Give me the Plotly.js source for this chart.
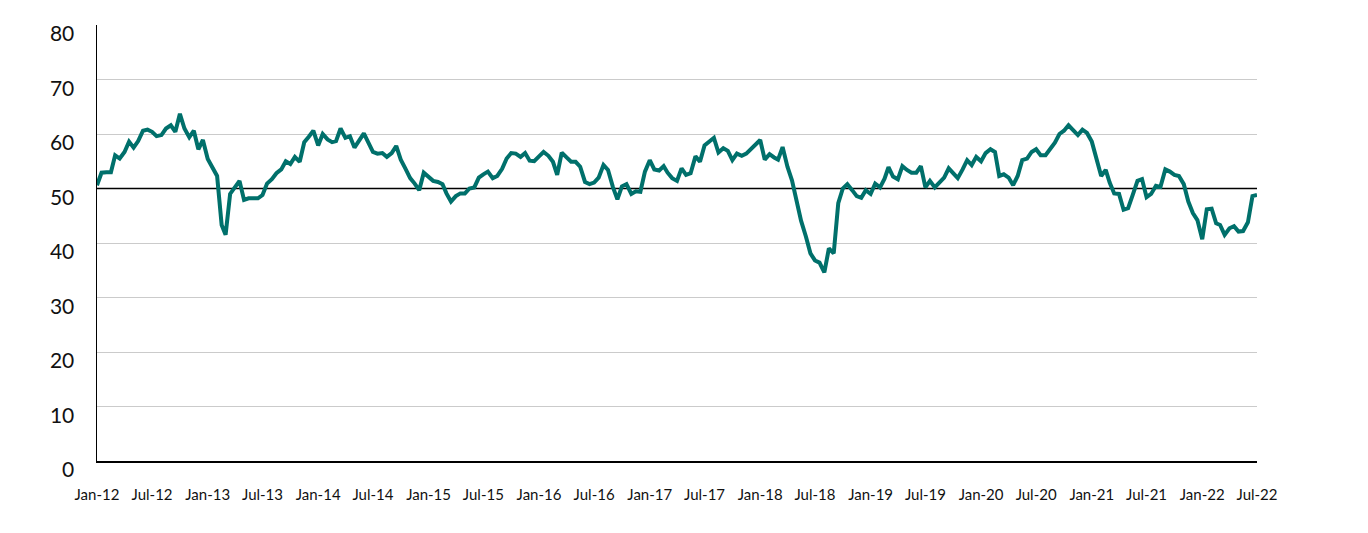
<!DOCTYPE html>
<html>
<head>
<meta charset="utf-8">
<script src="https://cdn.plot.ly/plotly-3.0.1.min.js"></script>
<style>
  html, body { margin: 0; padding: 0; background: #ffffff; }
  #chart { width: 1368px; height: 533px; }
</style>
</head>
<body>
<div id="chart"></div>
<script>
// Semi-monthly readings (1st and 16th of each month), one array per year
const y2012 = [50.6, 52.9, 53.0, 53.0, 56.1, 55.5, 56.7, 58.6, 57.5, 58.7, 60.6, 60.8,
               60.4, 59.6, 59.8, 61.0, 61.6, 60.4, 63.7, 61.0, 59.4, 60.6, 57.2, 58.9];
const y2013 = [55.4, 53.9, 52.3, 43.3, 41.5, 49.0, 50.3, 51.4, 47.9, 48.2, 48.2, 48.2,
               48.8, 50.9, 51.7, 52.8, 53.5, 55.0, 54.5, 55.8, 54.9, 58.5, 59.5, 60.6];
const y2014 = [57.9, 60.0, 59.0, 58.5, 58.7, 61.0, 59.3, 59.6, 57.5, 58.7, 60.1, 58.4,
               56.7, 56.4, 56.5, 55.8, 56.5, 57.8, 55.3, 53.7, 51.9, 50.9, 49.7, 52.9];
const y2015 = [52.0, 51.4, 51.2, 50.8, 49.1, 47.6, 48.6, 49.1, 49.1, 50.0, 50.2, 52.0,
               52.6, 53.1, 51.9, 52.3, 53.6, 55.5, 56.5, 56.4, 55.8, 56.5, 55.1, 55.0];
const y2016 = [55.9, 56.7, 56.0, 54.9, 52.5, 56.6, 55.7, 54.9, 54.9, 54.0, 51.2, 50.8,
               51.1, 52.0, 54.3, 53.4, 50.3, 48.0, 50.4, 50.8, 49.0, 49.5, 49.4, 53.1];
const y2017 = [55.2, 53.5, 53.3, 54.1, 52.9, 51.9, 51.4, 53.7, 52.5, 52.8, 55.9, 54.9,
               57.9, 58.6, 59.3, 56.6, 57.4, 56.9, 55.2, 56.4, 56.0, 56.4, 57.3, 58.1];
const y2018 = [58.9, 55.3, 56.3, 55.7, 55.3, 57.6, 54.0, 51.5, 47.4, 44.1, 41.2, 38.1,
               36.8, 36.4, 34.6, 39.0, 38.1, 47.3, 50.0, 50.8, 49.7, 48.6, 48.3, 49.7];
const y2019 = [49.0, 50.9, 50.2, 51.8, 53.9, 52.2, 51.7, 54.1, 53.4, 52.9, 52.9, 54.1,
               50.2, 51.4, 50.2, 51.1, 52.0, 53.7, 52.8, 51.9, 53.5, 55.2, 54.3, 55.8];
const y2020 = [55.0, 56.5, 57.2, 56.7, 52.3, 52.6, 52.0, 50.6, 52.3, 55.2, 55.5, 56.7,
               57.2, 56.1, 56.1, 57.3, 58.4, 60.0, 60.6, 61.6, 60.7, 59.8, 60.8, 60.2];
const y2021 = [58.6, 55.5, 52.3, 53.4, 51.1, 49.1, 49.0, 46.1, 46.4, 48.8, 51.4, 51.7,
               48.4, 49.0, 50.5, 50.3, 53.5, 53.1, 52.5, 52.3, 50.8, 47.6, 45.5, 44.2];
const y2022 = [40.7, 46.2, 46.3, 43.6, 43.3, 41.5, 42.7, 43.1, 42.1, 42.2, 43.8, 48.6, 48.8];

const years = [2012, 2013, 2014, 2015, 2016, 2017, 2018, 2019, 2020, 2021, 2022];
const yearValues = [y2012, y2013, y2014, y2015, y2016, y2017, y2018, y2019, y2020, y2021, y2022];

const REF_LEVEL = 50;
const Y_TICKS = [0, 10, 20, 30, 40, 50, 60, 70, 80];
const X_START = '2012-01-01';
const X_END = '2022-07-01';

// Build date/value lists from the yearly arrays
const dates = [];
const values = [];
years.forEach((yr, i) => {
  yearValues[i].forEach((v, j) => {
    const month = Math.floor(j / 2) + 1;
    const day = (j % 2 === 0) ? 1 : 16;
    dates.push(yr + '-' + String(month).padStart(2, '0') + '-' + String(day).padStart(2, '0'));
    values.push(v);
  });
});

const refLine = {
  x: [X_START, X_END],
  y: [REF_LEVEL, REF_LEVEL],
  type: 'scatter',
  mode: 'lines',
  line: { color: '#000000', width: 1.6 },
  hoverinfo: 'skip'
};

const trace = {
  x: dates,
  y: values,
  type: 'scatter',
  mode: 'lines',
  line: { color: '#00706B', width: 4 },
  hoverinfo: 'x+y'
};

const layout = {
  width: 1368,
  height: 533,
  margin: { l: 97, r: 111, t: 25, b: 72 },
  paper_bgcolor: '#ffffff',
  plot_bgcolor: '#ffffff',
  showlegend: false,
  font: { family: 'Lato, "Open Sans", sans-serif', color: '#1a1a1a' },
  xaxis: {
    type: 'date',
    range: [X_START, X_END],
    tick0: X_START,
    dtick: 'M6',
    tickformat: '%b-%y',
    showgrid: false,
    zeroline: false,
    showline: true,
    linecolor: '#000000',
    linewidth: 1.5,
    ticks: '',
    ticklabelstandoff: 19,
    tickfont: { size: 15, color: '#111111' }
  },
  yaxis: {
    range: [0, 80],
    tickvals: Y_TICKS,
    ticktext: Y_TICKS.map(String),
    showgrid: true,
    gridcolor: '#cbcbcb',
    gridwidth: 1,
    zeroline: false,
    showline: true,
    linecolor: '#000000',
    linewidth: 1.5,
    ticks: '',
    ticklabelstandoff: 17,
    ticklabelshift: 9,
    tickfont: { size: 21, color: '#111111' }
  }
};

Plotly.newPlot('chart', [refLine, trace], layout, { displayModeBar: false, staticPlot: true });
</script>
</body>
</html>
